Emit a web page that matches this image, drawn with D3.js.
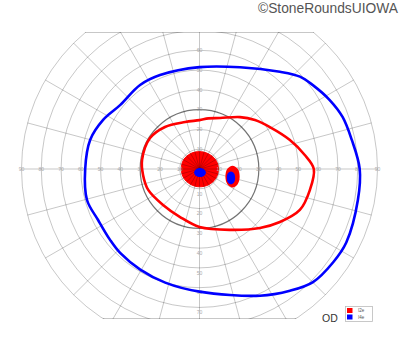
<!DOCTYPE html>
<html><head><meta charset="utf-8">
<script src="https://cdn.jsdelivr.net/npm/d3@7"></script>
<style>html,body{margin:0;padding:0;background:#fff;}svg{display:block;}</style>
</head><body>
<svg id="c" width="400" height="352"></svg>
<script>
// ---- data (visual field, degrees) ----
const ringDegrees = [10,20,30,40,50,60,70,80,90];
const spokeAngles = d3.range(0,360,15);
const axisLabels = [10,20,30,40,50,60,70,80,90];
// I4e isopter: [meridian angle (deg, 0=right, ccw), eccentricity (deg)]
const isopterI4e = [[0,81],[10.8,78.4],[19.9,77],[27.9,74.5],[36.5,71.3],[42.6,69],[50.4,63.8],[68.3,55.4],[90,51.5],[112.8,51.5],[125.3,52],[141,51.5],[153,54.7],[165,57.2],[180,57.8],[195.4,59],[206.7,57.4],[218.4,57.7],[226.6,58.4],[239.5,59],[253.2,60],[270,62],[295.5,71],[306.6,76.7],[315.1,81],[325,82.4],[333.4,83],[349,81.6]];
// I2e isopter
const isopterI2e = [[0,57.8],[7.6,53.7],[17.8,48],[30.8,41.4],[41.4,37.4],[52,33.3],[68,27.8],[80,26],[90,24.7],[107,24.8],[129.4,27.5],[148,29.5],[171,29.4],[186,28.7],[202.2,28],[224.6,25.9],[248,26.2],[270,29.3],[296.6,34.4],[315.7,42.7],[326.6,48.7],[337.8,54.8],[349.2,56.8]];
// central I2e area
const centralI2e = [[0,9.6],[30,9.4],[60,8.9],[90,8.8],[120,9],[150,9.3],[180,9.2],[210,9.2],[240,9],[270,9],[300,9.2],[330,9.5]];
// central I4e area [x deg, y deg]
const centralI4e = [[0.25,0.5],[2.4,-0.2],[3.25,-1.8],[2.4,-3.4],[0.25,-4.1],[-1.9,-3.4],[-2.75,-1.8],[-1.9,-0.2]];
// island near blind spot
const islandI2e = [[16.7,1.7],[19.3,0.1],[20.3,-3.8],[19.3,-7.7],[16.7,-9.3],[14.1,-7.7],[13.1,-3.8],[14.1,0.1]];
const islandI4e = [[15.9,-1.3],[17.4,-2.2],[18,-4.5],[17.4,-6.8],[15.9,-7.7],[14.4,-6.8],[13.8,-4.5],[14.4,-2.2]];
const legendItems = ["I2e","I4e"];
const eyeLabel = "OD";
const credit = "\u00A9StoneRoundsUIOWA";

// ---- layout ----
const svg = d3.select("#c");
const cx = 199.5, cy = 169, topY = 32, botY = 319;
const r = d3.scaleLinear().domain([0,90]).range([0,178]);
const color = d3.scaleOrdinal().domain(legendItems).range(["#ff0000","#0000ff"]);
const polar = d => { const a = d[0]*Math.PI/180; return [cx + r(d[1])*Math.cos(a), cy - r(d[1])*Math.sin(a)]; };
const cart = d => [cx + r(d[0]), cy - r(d[1])];
const closed = d3.line().curve(d3.curveCatmullRomClosed);

svg.append("defs").append("clipPath").attr("id","clip")
  .append("rect").attr("x",0).attr("y",topY).attr("width",400).attr("height",botY-topY);

const g = svg.append("g").attr("clip-path","url(#clip)");

// central filled area (under grid)
g.append("path").attr("d", closed(centralI2e.map(polar)))
  .attr("fill", color("I2e")).attr("stroke", color("I2e")).attr("stroke-width",1);

// grid
const grid = g.append("g").attr("fill","none");
grid.selectAll("circle.ring").data(ringDegrees).join("circle")
  .attr("cx",cx).attr("cy",cy).attr("r",d=>r(d))
  .attr("stroke", d => d===30 ? "rgba(0,0,0,0.55)" : "rgba(0,0,0,0.22)")
  .attr("stroke-width", d => d===30 ? 1.2 : 1);
grid.selectAll("line.spoke").data(spokeAngles).join("line")
  .attr("x1",cx).attr("y1",cy)
  .attr("x2",d=>polar([d,90])[0]).attr("y2",d=>polar([d,90])[1])
  .attr("stroke","rgba(0,0,0,0.22)").attr("stroke-width",1);

// top/bottom border chords
[topY+0.5, botY-0.5].forEach(y => {
  const dy = Math.abs(y-cy), R = r(90);
  const dx = Math.sqrt(Math.max(0,R*R-dy*dy));
  svg.append("line").attr("x1",cx-dx).attr("x2",cx+dx).attr("y1",y).attr("y2",y)
    .attr("stroke","rgba(0,0,0,0.22)").attr("stroke-width",1.2);
});

// axis labels
const lab = svg.append("g").attr("font-family","Liberation Sans, Arial, sans-serif")
  .attr("font-size",5).attr("fill","#aaa").attr("text-anchor","middle");
axisLabels.forEach(v => {
  lab.append("text").attr("x",cx - r(v)).attr("y",cy).attr("dy","0.35em").text(v);
  lab.append("text").attr("x",cx + r(v)).attr("y",cy).attr("dy","0.35em").text(v);
  if (cy - r(v) > topY+1) lab.append("text").attr("x",cx).attr("y",cy - r(v)).attr("dy","0.35em").text(v);
  if (cy + r(v) + 6 < botY) lab.append("text").attr("x",cx).attr("y",cy + r(v) + 5).attr("dy","0.35em").text(v);
});

// central I4e, island
const marks = svg.append("g");
marks.append("path").attr("d", closed(centralI4e.map(cart))).attr("fill", color("I4e"));
marks.append("path").attr("d", closed(islandI2e.map(cart))).attr("fill", color("I2e"));
marks.append("path").attr("d", closed(islandI4e.map(cart))).attr("fill", color("I4e"));

// isopters
marks.append("path").attr("d", closed(isopterI2e.map(polar)))
  .attr("fill","none").attr("stroke",color("I2e")).attr("stroke-width",2.6);
marks.append("path").attr("d", closed(isopterI4e.map(polar)))
  .attr("fill","none").attr("stroke",color("I4e")).attr("stroke-width",2.6);

// legend
const lg = svg.append("g");
lg.append("rect").attr("x",345.5).attr("y",306.5).attr("width",27).attr("height",15)
  .attr("fill","#fff").attr("stroke","#bbb").attr("stroke-width",0.8);
legendItems.forEach((k,i) => {
  lg.append("rect").attr("x",347).attr("y",308 + i*6.5).attr("width",5.5).attr("height",5)
    .attr("fill",color(k));
  lg.append("text").attr("x",358).attr("y",310.5 + i*6.5).attr("dy","0.35em")
    .attr("font-family","Liberation Sans, Arial, sans-serif").attr("font-size",4.5)
    .attr("fill","#555").text(k);
});
svg.append("text").attr("x",322).attr("y",318).attr("dy","0.35em")
  .attr("font-family","Liberation Sans, Arial, sans-serif").attr("font-size",10.5)
  .attr("fill","#333").text(eyeLabel);
svg.append("text").attr("x",398).attr("y",8).attr("dy","0.35em").attr("text-anchor","end")
  .attr("font-family","Liberation Sans, Arial, sans-serif").attr("font-size",13.8)
  .attr("fill","#555").text(credit);
</script>
</body></html>
